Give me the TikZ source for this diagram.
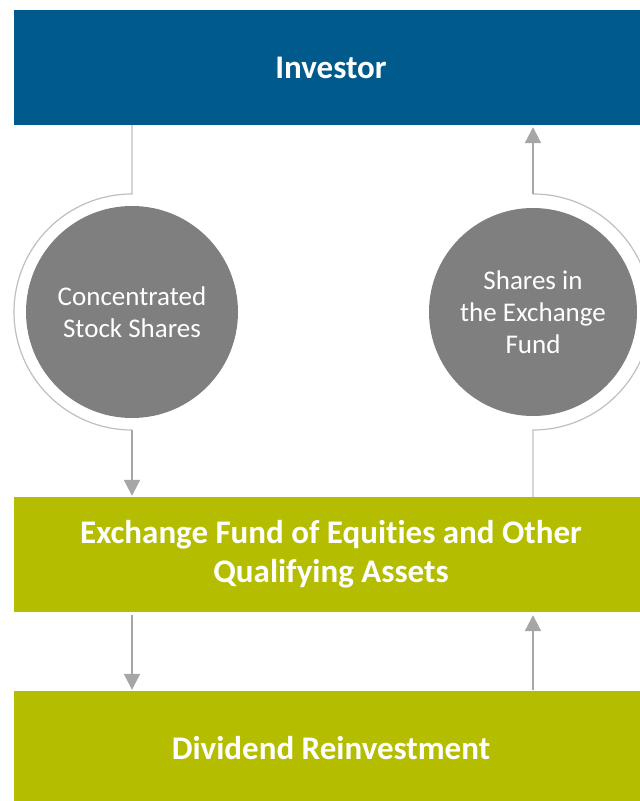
\documentclass[tikz,border=0pt]{standalone}
\usepackage{fontspec}
\setmainfont{Carlito}[Ligatures=NoCommon]
\usetikzlibrary{arrows.meta,calc}
\definecolor{bluinv}{RGB}{0,90,140}
\definecolor{verdefondo}{RGB}{181,189,0}
\definecolor{grigiocerchio}{RGB}{127,127,127}
\definecolor{grigiolinea}{RGB}{166,166,166}
\definecolor{grigioarco}{RGB}{191,191,191}
\begin{document}
\begin{tikzpicture}[x=1pt,y=1pt,
	box/.style={fill=#1, minimum width=634pt, minimum height=115pt, inner sep=0pt, text=white, font=\fontsize{33}{39}\selectfont\bfseries, align=center},
	cerchio/.style={circle, fill=grigiocerchio, minimum size=#1, inner sep=0pt, text=white, font=\fontsize{27}{32}\selectfont, align=center},
	freccia/.style={draw=grigiolinea, line width=2pt, -{Triangle[width=16pt,length=16pt]}},
	arco/.style={draw=grigioarco, line width=1.2pt}]
			% Sfondo e ritaglio
			\useasboundingbox (0,0) rectangle (640,801);
			\fill[white] (0,0) rectangle (640,801);
			\clip (0,0) rectangle (640,801);
			
			% Riquadri
			\node[box=bluinv] (inv) at (331,733.5) {Investor};
			\node[box=verdefondo] (exf) at (331,246.5) {Exchange Fund of Equities and Other\\Qualifying Assets};
			\node[box=verdefondo] (div) at (331,52.5) {Dividend Reinvestment};
			
			% Cerchi
			\node[cerchio=212pt] (cs) at (132,489) {Concentrated\\Stock Shares};
			\node[cerchio=208pt] (sf) at (533,489) {Shares in\\the Exchange\\Fund};
			
			% Percorso a sinistra
			\draw[arco] (inv.south -| cs.center) -- ($(cs.center)+(0,118)$) arc[start angle=90, end angle=270, radius=118pt];
			\draw[freccia] ($(cs.center)+(0,-118)$) -- ([yshift=1pt]exf.north -| cs.center);
			
			% Percorso a destra
			\draw[arco] (exf.north -| sf.center) -- ($(sf.center)+(0,-118)$) arc[start angle=-90, end angle=90, radius=118pt];
			\draw[freccia] ($(sf.center)+(0,118)$) -- ([yshift=-2pt]inv.south -| sf.center);
			
			% Frecce in basso
			\draw[freccia] ([yshift=-3pt]exf.south -| cs.center) -- ([yshift=1pt]div.north -| cs.center);
			\draw[freccia] ([yshift=1pt]div.north -| sf.center) -- ([yshift=-3pt]exf.south -| sf.center);
		\end{tikzpicture}
\end{document}
